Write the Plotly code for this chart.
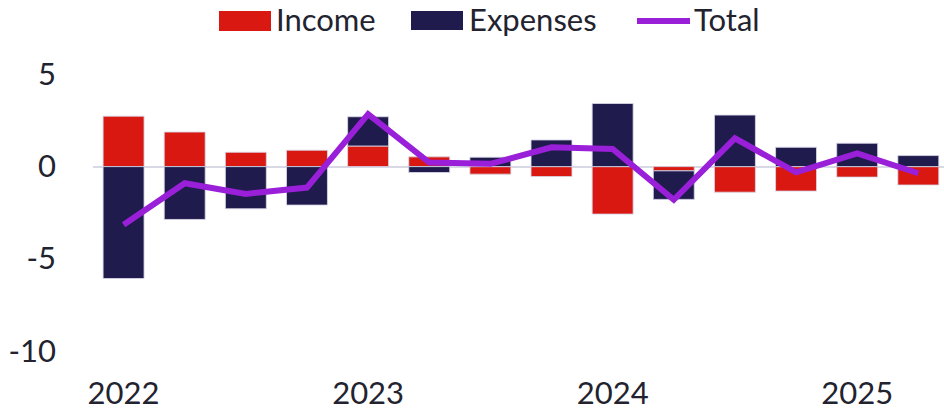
import plotly.graph_objects as go

# Quarterly contributions (percentage points)
quarters = [f"{y} Q{q}" for y in (2022, 2023, 2024, 2025) for q in (1, 2, 3, 4)][:14]
income = [2.74, 1.88, 0.78, 0.89, 1.12, 0.53, -0.41, -0.54, -2.58, -0.23, -1.39, -1.33, -0.57, -1.00]
expenses = [-6.08, -2.87, -2.29, -2.09, 1.59, -0.32, 0.51, 1.45, 3.43, -1.55, 2.80, 1.05, 1.27, 0.60]
total = [-3.16, -0.90, -1.48, -1.14, 2.85, 0.22, 0.15, 1.05, 0.96, -1.80, 1.54, -0.31, 0.72, -0.36]
year_ticks = ["2022 Q1", "2023 Q1", "2024 Q1", "2025 Q1"]
year_labels = ["2022", "2023", "2024", "2025"]
y_ticks = [5, 0, -5, -10]
y_labels = ["5", "0", "-5", "-10"]

RED = "#D91811"
NAVY = "#1F1B4D"
PURPLE = "#9A1FD8"
TEXT = "#22232F"
FONT = "Lato"

W, H = 944, 412
L, R, T, B = 93, 0, 47, 40

fig = go.Figure()
edge = dict(color="rgba(215,215,230,0.85)", width=1)
fig.add_trace(go.Bar(x=quarters, y=income, name="Income", marker=dict(color=RED, line=edge)))
fig.add_trace(go.Bar(x=quarters, y=expenses, name="Expenses", marker=dict(color=NAVY, line=edge)))
fig.add_trace(go.Scatter(x=quarters, y=total, name="Total", mode="lines",
                         line=dict(color=PURPLE, width=6)))

# Hand-placed legend row above the plot
pw, ph = W - L - R, H - T - B
def px(x):
    return (x - L) / pw
def py(y):
    return (H - B - y) / ph

shapes = [
    dict(type="rect", xref="paper", yref="paper", x0=px(219), x1=px(271), y0=py(31), y1=py(11),
         fillcolor=RED, line=dict(width=0)),
    dict(type="rect", xref="paper", yref="paper", x0=px(411), x1=px(463), y0=py(30), y1=py(11),
         fillcolor=NAVY, line=dict(width=0)),
    dict(type="line", xref="paper", yref="paper", x0=px(637), x1=px(690), y0=py(21), y1=py(21),
         line=dict(color=PURPLE, width=6)),
]
legend_text = [("Income", 275), ("Expenses", 468), ("Total", 693)]
annotations = [
    dict(text=t, xref="paper", yref="paper", x=px(x), y=py(19), xanchor="left", yanchor="middle",
         showarrow=False, font=dict(family=FONT, size=31, color=TEXT), borderpad=0)
    for t, x in legend_text
]

fig.update_layout(
    width=W, height=H,
    margin=dict(l=L, r=R, t=T, b=B),
    barmode="relative",
    bargap=0.33,
    plot_bgcolor="white",
    paper_bgcolor="white",
    showlegend=False,
    font=dict(family=FONT, size=31, color=TEXT),
    shapes=shapes,
    annotations=annotations,
)
fig.update_xaxes(
    type="category",
    range=[-0.5, 13.42],
    tickmode="array", tickvals=year_ticks, ticktext=year_labels,
    showgrid=False, showline=False, zeroline=False, ticks="",
    tickfont=dict(family=FONT, size=31, color=TEXT),
)
fig.update_yaxes(
    range=[-11.16, 6.5],
    tickmode="array", tickvals=y_ticks, ticktext=y_labels,
    showgrid=False, showline=False,
    zeroline=True, zerolinecolor="#D9D9E6", zerolinewidth=2,
    ticks="", ticklabelstandoff=36,
    tickfont=dict(family=FONT, size=31, color=TEXT),
)

fig.write_html("out.html")
